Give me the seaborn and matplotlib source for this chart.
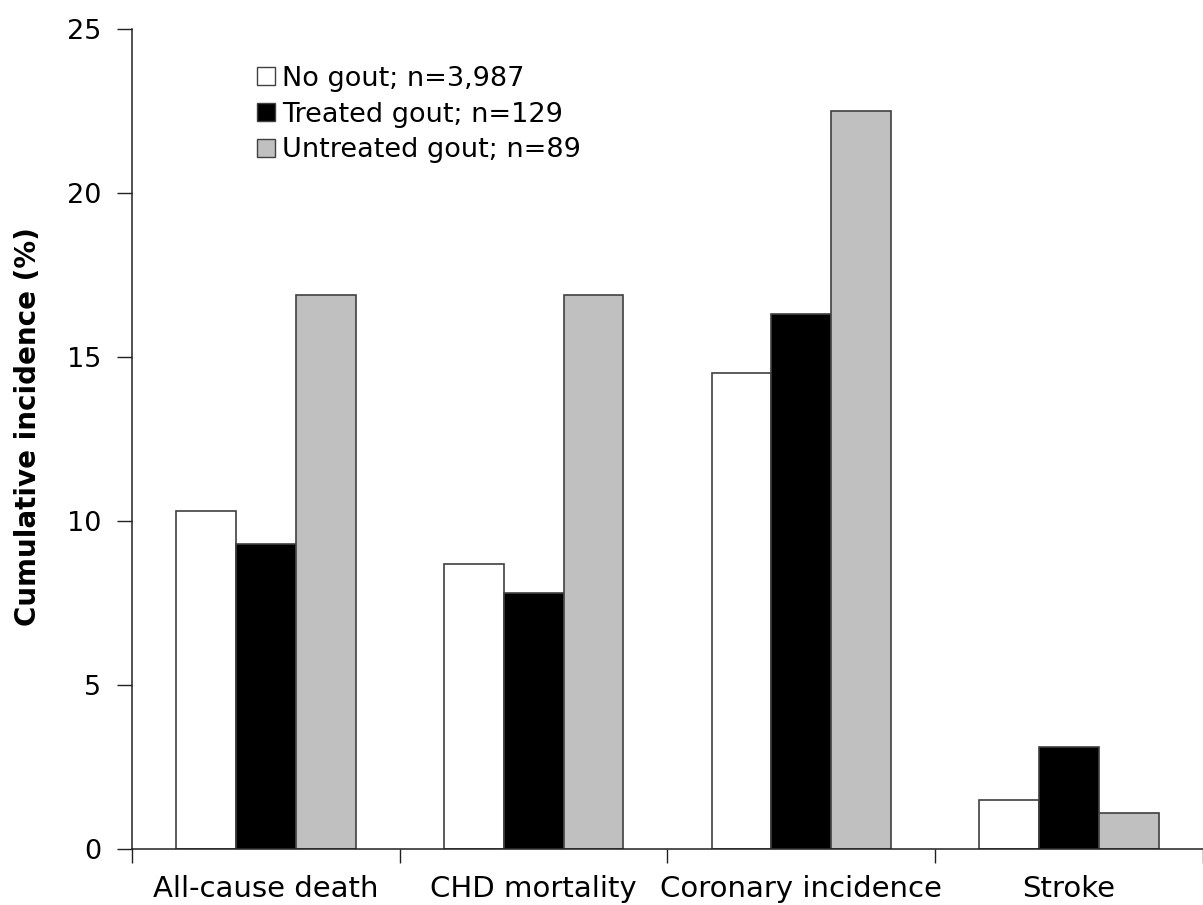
import numpy as np
import pandas as pd
import matplotlib
matplotlib.use("Agg")
import matplotlib.pyplot as plt
import seaborn as sns

outcomes = ["All-cause death", "CHD mortality", "Coronary incidence", "Stroke"]
groups = ["No gout; n=3,987", "Treated gout; n=129", "Untreated gout; n=89"]
no_gout = [10.3, 8.7, 14.5, 1.5]
treated = [9.3, 7.8, 16.3, 3.1]
untreated = [16.9, 16.9, 22.5, 1.1]
colors = ["#ffffff", "#000000", "#c0c0c0"]

df = pd.DataFrame({
    "outcome": outcomes * 3,
    "group": np.repeat(groups, len(outcomes)),
    "value": no_gout + treated + untreated,
})

sns.set_style("white")
plt.rcParams["font.family"] = ["DejaVu Sans"]
plt.rcParams["text.color"] = "black"
plt.rcParams["xtick.color"] = "black"
plt.rcParams["ytick.color"] = "black"
plt.rcParams["axes.labelcolor"] = "black"

fig = plt.figure(figsize=(12.03, 9.05), dpi=100)
ax = fig.add_axes([0.1097, 0.0619, 0.8903, 0.9061])

sns.barplot(data=df, x="outcome", y="value", hue="group", order=outcomes,
            hue_order=groups, palette=colors, edgecolor="#404040",
            linewidth=1.2, width=0.67, gap=0, saturation=1, ax=ax)

ax.set_ylim(0, 25)
ax.set_xlim(-0.5, 3.5)
ax.set_yticks([0, 5, 10, 15, 20, 25])
ax.set_xlabel("")
ax.set_ylabel("Cumulative incidence (%)", fontsize=20, fontweight="bold")
ax.yaxis.set_label_coords(-0.084, 0.515)

# category separators as minor ticks, no major tick marks
ax.set_xticks(np.arange(-0.5, 4.0, 1.0), minor=True)
ax.tick_params(axis="x", which="both", bottom=True)
ax.tick_params(axis="x", which="major", length=0, labelsize=21, pad=19)
ax.tick_params(axis="x", which="minor", length=10, width=1, color="#202020", direction="out")
ax.tick_params(axis="y", left=True, length=11, width=1, color="#202020", direction="out",
               labelsize=19.5, pad=11)

for s in ["top", "right"]:
    ax.spines[s].set_visible(False)
for s in ["left", "bottom"]:
    ax.spines[s].set_color("#202020")
    ax.spines[s].set_linewidth(1.1)

leg = ax.legend(loc="upper left", bbox_to_anchor=(0.117, 0.955), frameon=False,
                fontsize=19.5, handlelength=0.65, handleheight=0.65, handletextpad=0.25,
                labelspacing=0.36, borderaxespad=0, borderpad=0)
for h in leg.legend_handles:
    h.set_edgecolor("#404040")
    h.set_linewidth(1)

fig.savefig("out.png", dpi=100)
